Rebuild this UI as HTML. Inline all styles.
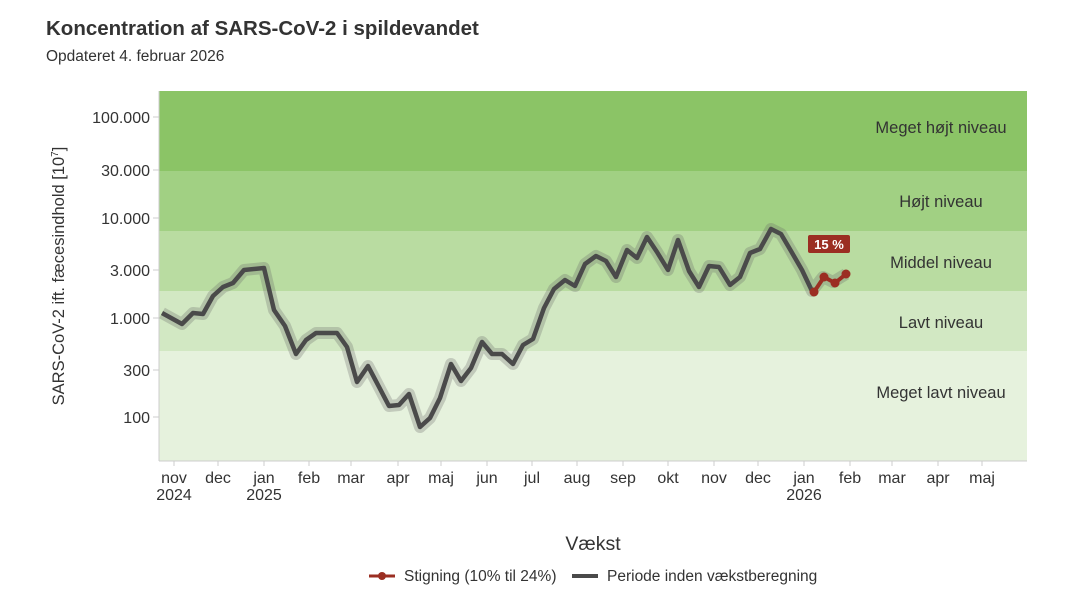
<!DOCTYPE html>
<html><head><meta charset="utf-8"><style>
body{margin:0;background:#fff;font-family:"Liberation Sans",sans-serif;}
</style></head><body>
<svg width="1088" height="600" xmlns="http://www.w3.org/2000/svg" font-family="Liberation Sans, sans-serif">
<text x="46" y="35" font-size="20.5" font-weight="bold" fill="#333">Koncentration af SARS-CoV-2 i spildevandet</text>
<text x="46" y="61" font-size="15.5" fill="#333">Opdateret 4. februar 2026</text>
<rect x="159" y="91" width="868" height="80" fill="#8bc466"/>
<rect x="159" y="171" width="868" height="60" fill="#a1d083"/>
<rect x="159" y="231" width="868" height="60" fill="#b9dca1"/>
<rect x="159" y="291" width="868" height="60" fill="#d2e8c3"/>
<rect x="159" y="351" width="868" height="110" fill="#e6f2dd"/>
<g font-size="16.5" fill="#333" text-anchor="middle">
<text x="941" y="133">Meget højt niveau</text>
<text x="941" y="207">Højt niveau</text>
<text x="941" y="268">Middel niveau</text>
<text x="941" y="328">Lavt niveau</text>
<text x="941" y="398">Meget lavt niveau</text>
</g>
<line x1="159" y1="91" x2="159" y2="461" stroke="#ccc"/>
<line x1="159" y1="461" x2="1027" y2="461" stroke="#ccc"/>
<g font-size="16" fill="#333" text-anchor="end">
<text x="150" y="123">100.000</text><text x="150" y="176">30.000</text><text x="150" y="224">10.000</text>
<text x="150" y="276">3.000</text><text x="150" y="324">1.000</text><text x="150" y="376">300</text><text x="150" y="423">100</text>
</g>
<g stroke="#ccc"><line x1="153" y1="117" x2="159" y2="117"/><line x1="153" y1="170" x2="159" y2="170"/><line x1="153" y1="218" x2="159" y2="218"/><line x1="153" y1="270" x2="159" y2="270"/><line x1="153" y1="318" x2="159" y2="318"/><line x1="153" y1="370" x2="159" y2="370"/><line x1="153" y1="417" x2="159" y2="417"/></g>
<text transform="translate(64,276) rotate(-90)" font-size="16.5" fill="#333" text-anchor="middle">SARS-CoV-2 ift. fæcesindhold [10<tspan font-size="10" dy="-6">7</tspan><tspan dy="6">]</tspan></text>
<g font-size="16" fill="#333" text-anchor="middle" stroke="none">
<text x="174" y="483">nov</text><text x="174" y="500">2024</text>
<text x="218" y="483">dec</text>
<text x="264" y="483">jan</text><text x="264" y="500">2025</text>
<text x="309" y="483">feb</text><text x="351" y="483">mar</text><text x="398" y="483">apr</text><text x="441" y="483">maj</text>
<text x="487" y="483">jun</text><text x="532" y="483">jul</text><text x="577" y="483">aug</text><text x="623" y="483">sep</text>
<text x="668" y="483">okt</text><text x="714" y="483">nov</text><text x="758" y="483">dec</text>
<text x="804" y="483">jan</text><text x="804" y="500">2026</text>
<text x="850" y="483">feb</text><text x="892" y="483">mar</text><text x="938" y="483">apr</text><text x="982" y="483">maj</text>
</g>
<g stroke="#ccc"><line x1="174" y1="461" x2="174" y2="466"/><line x1="218" y1="461" x2="218" y2="466"/><line x1="264" y1="461" x2="264" y2="466"/><line x1="309" y1="461" x2="309" y2="466"/><line x1="351" y1="461" x2="351" y2="466"/><line x1="398" y1="461" x2="398" y2="466"/><line x1="441" y1="461" x2="441" y2="466"/><line x1="487" y1="461" x2="487" y2="466"/><line x1="532" y1="461" x2="532" y2="466"/><line x1="577" y1="461" x2="577" y2="466"/><line x1="623" y1="461" x2="623" y2="466"/><line x1="668" y1="461" x2="668" y2="466"/><line x1="714" y1="461" x2="714" y2="466"/><line x1="758" y1="461" x2="758" y2="466"/><line x1="804" y1="461" x2="804" y2="466"/><line x1="850" y1="461" x2="850" y2="466"/><line x1="892" y1="461" x2="892" y2="466"/><line x1="938" y1="461" x2="938" y2="466"/><line x1="982" y1="461" x2="982" y2="466"/></g>
<polyline fill="none" stroke="#666" stroke-opacity="0.28" stroke-width="12" stroke-linejoin="round" points="162,313 182,324 193,313 203,314 213,296 223,287 233,283 244,270 264,268 274,310 285,326 296,354 306,340 316,333 337,333 347,347 357,382 368,366 378,385 389,406 399,405 409,394 420,427 430,418 440,398 451,364 461,381 471,368 482,342 492,354 502,354 513,364 523,345 533,339 544,308 554,289 565,280 575,286 585,264 596,256 606,261 616,277 627,250 637,258 647,237 657,252 668,270 678,240 689,271 699,287 709,266 719,267 730,285 740,277 750,253 760,249 771,229 781,234 791,251 802,270 812,291 823,277 833,282 846,274"/>
<polyline fill="none" stroke="#4a4a4a" stroke-width="4.5" stroke-linejoin="round" points="162,313 182,324 193,313 203,314 213,296 223,287 233,283 244,270 264,268 274,310 285,326 296,354 306,340 316,333 337,333 347,347 357,382 368,366 378,385 389,406 399,405 409,394 420,427 430,418 440,398 451,364 461,381 471,368 482,342 492,354 502,354 513,364 523,345 533,339 544,308 554,289 565,280 575,286 585,264 596,256 606,261 616,277 627,250 637,258 647,237 657,252 668,270 678,240 689,271 699,287 709,266 719,267 730,285 740,277 750,253 760,249 771,229 781,234 791,251 802,270 812,291"/>
<polyline fill="none" stroke="#9b2e22" stroke-width="4" points="814,292 824,277 835,283 846,274"/>
<g fill="#9b2e22"><circle cx="814" cy="292" r="4.5"/><circle cx="824" cy="277" r="4.5"/><circle cx="835" cy="283" r="4.5"/><circle cx="846" cy="274" r="4.5"/></g>
<rect x="808" y="235" width="42" height="18" rx="2" fill="#9b2e22"/>
<text x="829" y="249" font-size="13" font-weight="bold" fill="#fff" text-anchor="middle">15 %</text>
<text x="593" y="550" font-size="19.5" fill="#333" text-anchor="middle">Vækst</text>
<line x1="369" y1="576" x2="395" y2="576" stroke="#9b2e22" stroke-width="3"/><circle cx="382" cy="576" r="4" fill="#9b2e22"/>
<text x="404" y="581" font-size="15.5" fill="#333">Stigning (10% til 24%)</text>
<line x1="572" y1="576" x2="598" y2="576" stroke="#4a4a4a" stroke-width="4"/>
<text x="607" y="581" font-size="15.5" fill="#333">Periode inden vækstberegning</text>
</svg>
</body></html>
